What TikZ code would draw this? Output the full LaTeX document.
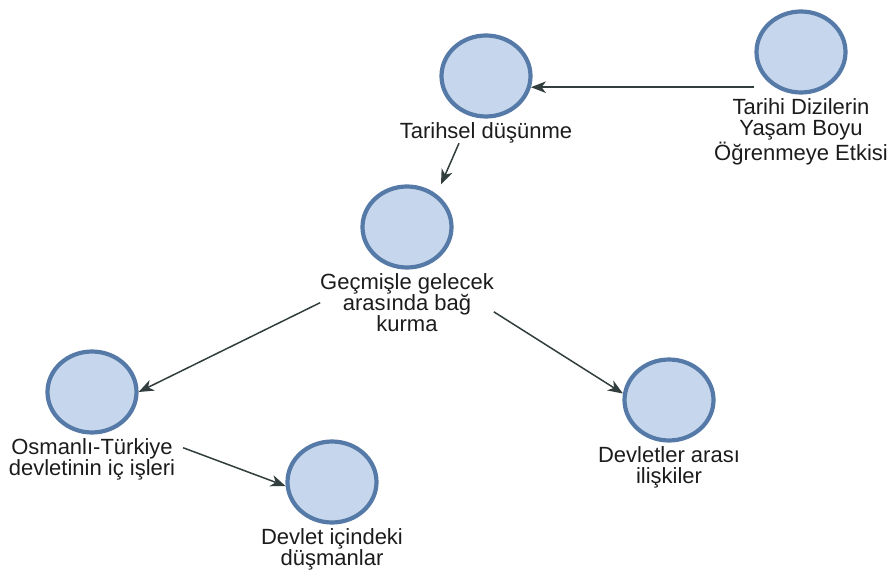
\documentclass[tikz,border=0pt]{standalone}
\usepackage{fontspec}
\setmainfont{Liberation Sans}
\usetikzlibrary{arrows.meta,positioning,shapes.geometric,calc}
\definecolor{bubblefill}{RGB}{198,214,236}
\definecolor{bubbleline}{RGB}{86,122,168}
\definecolor{linkgray}{RGB}{50,62,62}
\definecolor{labelgray}{RGB}{28,28,28}
\tikzset{
  bubble/.style={ellipse, draw=bubbleline, fill=bubblefill, line width=2.1pt,
                 minimum width=44.5pt, minimum height=40.5pt, inner sep=0pt},
  caption/.style={align=center, inner sep=0pt, outer sep=0pt, text=labelgray,
                  font=\fontsize{11}{10.5}\selectfont},
  link/.style={draw=linkgray, line width=0.75pt,
               -{Stealth[length=7.5pt,width=5.8pt,inset=2.2pt]}}
}
\begin{document}
\begin{tikzpicture}[x=0.5pt, y=-0.5pt]
      \useasboundingbox (0,0) rectangle (889,572);
      \node[bubble] (tarihi) at (801,52) {};
      \node[bubble] (tarihsel) at (486,76) {};
      \node[bubble] (gecmis) at (407,227) {};
      \node[bubble] (osmanli) at (92,392) {};
      \node[bubble] (devletler) at (669,400) {};
      \node[bubble] (icdusman) at (332,482) {};
      \node[caption, below=2pt of tarihi] (tarihi-txt) {Tarihi Dizilerin\\Yaşam Boyu\\Öğrenmeye Etkisi};
      \node[caption, below=2pt of tarihsel] (tarihsel-txt) {Tarihsel düşünme};
      \node[caption, below=2pt of gecmis] (gecmis-txt) {Geçmişle gelecek\\arasında bağ\\kurma};
      \node[caption, below=2pt of osmanli] (osmanli-txt) {Osmanlı-Türkiye\\devletinin iç işleri};
      \node[caption, below=2pt of devletler] (devletler-txt) {Devletler arası\\ilişkiler};
      \node[caption, below=2pt of icdusman] (icdusman-txt) {Devlet içindeki\\düşmanlar};
      \draw[link] (tarihi.west |- tarihsel.-14) -- (tarihsel.-14);
      \draw[link] ($(tarihsel-txt.south)+(-27,0)$) -- ($(gecmis.north)+(34,0)$);
      \draw[link] (gecmis-txt.west) -- (osmanli.east);
      \draw[link] (gecmis-txt.-6) -- (devletler.172);
      \draw[link] ($(osmanli-txt.10)+(8,3)$) -- (icdusman.185);
\end{tikzpicture}
\end{document}
